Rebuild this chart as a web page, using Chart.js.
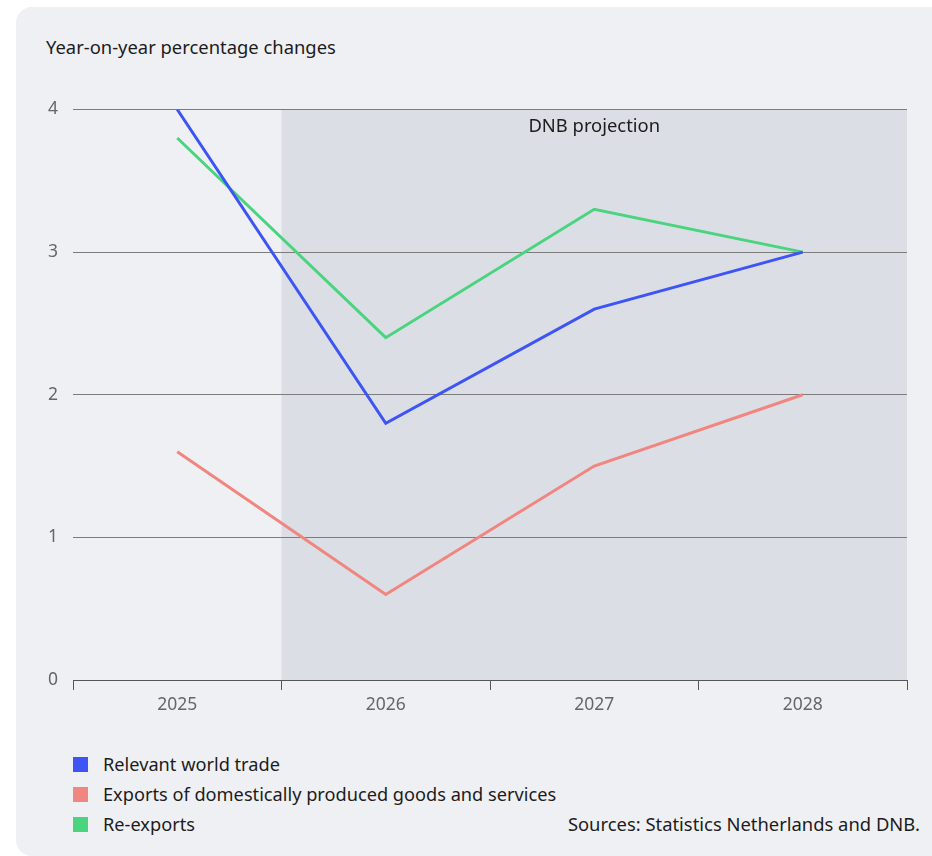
<!DOCTYPE html>
<html lang="en">
<head>
  <meta charset="UTF-8">
  <title>Exports and world trade</title>
  <script src="https://cdn.jsdelivr.net/npm/chart.js"></script>
  <style>
    body {
      margin: 0;
      background: #ffffff;
      font-family: "Noto Sans", "Open Sans", sans-serif;
      overflow: hidden;
    }
    .card {
      position: absolute;
      left: 16px;
      top: 7px;
      width: 940px;
      height: 849px;
      background: #eff0f4;
      border-radius: 16px;
    }
    .title {
      position: absolute;
      left: 30px;
      top: 27px;
      font-size: 18.4px;
      color: #1c1c1c;
    }
    .chart-wrap {
      position: absolute;
      left: 0;
      top: 77px;
      width: 916px;
      height: 656px;
    }
    .legend {
      position: absolute;
      left: 57px;
      top: 742px;
      font-size: 18.2px;
      color: #1c1c1c;
    }
    .legend div {
      height: 30px;
      line-height: 30px;
      display: flex;
      align-items: center;
    }
    .legend span.sw {
      display: inline-block;
      width: 15px;
      height: 15px;
      margin-right: 15px;
    }
    .source {
      position: absolute;
      right: 36px;
      top: 802px;
      line-height: 30px;
      font-size: 18.4px;
      color: #1c1c1c;
    }
  </style>
</head>
<body>
  <div class="card">
    <div class="title">Year-on-year percentage changes</div>
    <div class="chart-wrap"><canvas id="chart" width="916" height="656"></canvas></div>
    <div class="legend" id="legend"></div>
    <div class="source">Sources: Statistics Netherlands and DNB.</div>
  </div>

  <script>
    const years = ['2025', '2026', '2027', '2028'];
    const worldTrade = [4.0, 1.8, 2.6, 3.0];
    const domesticExports = [1.6, 0.6, 1.5, 2.0];
    const reExports = [3.8, 2.4, 3.3, 3.0];
    const yTicks = [0, 1, 2, 3, 4];

    const series = [
      { label: 'Relevant world trade', data: worldTrade, color: '#3d55f5' },
      { label: 'Exports of domestically produced goods and services', data: domesticExports, color: '#f0867f' },
      { label: 'Re-exports', data: reExports, color: '#4bd47f' }
    ];

    const tickFont = { size: 17.5, family: '"Noto Sans", "Open Sans", sans-serif' };

    // shaded block for the projection years, from 2026 to the right edge
    const projectionShade = {
      id: 'projectionShade',
      beforeDraw(chart) {
        const { ctx, chartArea, scales } = chart;
        const x = scales.x;
        const left = (x.getPixelForValue(0) + x.getPixelForValue(1)) / 2;
        ctx.save();
        ctx.fillStyle = '#dcdee6';
        ctx.fillRect(left, chartArea.top, chartArea.right - left, chartArea.bottom - chartArea.top);
        ctx.fillStyle = '#1c1c1c';
        ctx.font = '18.4px "Noto Sans", "Open Sans", sans-serif';
        ctx.textAlign = 'center';
        ctx.textBaseline = 'middle';
        ctx.fillText('DNB projection', (left + chartArea.right) / 2, chartArea.top + 17);
        ctx.restore();
      }
    };

    new Chart(document.getElementById('chart'), {
      type: 'line',
      data: {
        labels: years,
        datasets: series.map(s => ({
          label: s.label,
          data: s.data,
          borderColor: s.color,
          backgroundColor: s.color,
          borderWidth: 3,
          pointRadius: 0,
          tension: 0,
          fill: false
        }))
      },
      options: {
        responsive: false,
        animation: false,
        layout: { padding: { top: 19, right: 25, left: 0, bottom: 0 } },
        plugins: {
          legend: { display: false },
          tooltip: { enabled: false }
        },
        scales: {
          x: {
            offset: true,
            grid: {
              offset: true,
              drawOnChartArea: false,
              drawTicks: true,
              tickLength: 10,
              color: '#555555'
            },
            border: { display: true, color: '#555555', width: 1 },
            ticks: {
              color: '#666666',
              font: tickFont,
              padding: 5
            },
            afterFit(scale) { scale.height = 60; }
          },
          y: {
            min: 0,
            max: 4,
            afterBuildTicks(scale) { scale.ticks = yTicks.map(v => ({ value: v })); },
            grid: {
              color: '#7c7c7c',
              drawTicks: false
            },
            border: { display: false },
            ticks: {
              color: '#666666',
              font: tickFont,
              padding: 15
            },
            afterFit(scale) { scale.width = 57; }
          }
        }
      },
      plugins: [projectionShade]
    });

    const legend = document.getElementById('legend');
    series.forEach(s => {
      const row = document.createElement('div');
      row.innerHTML = '<span class="sw" style="background:' + s.color + '"></span>' + s.label;
      legend.appendChild(row);
    });
  </script>
</body>
</html>
